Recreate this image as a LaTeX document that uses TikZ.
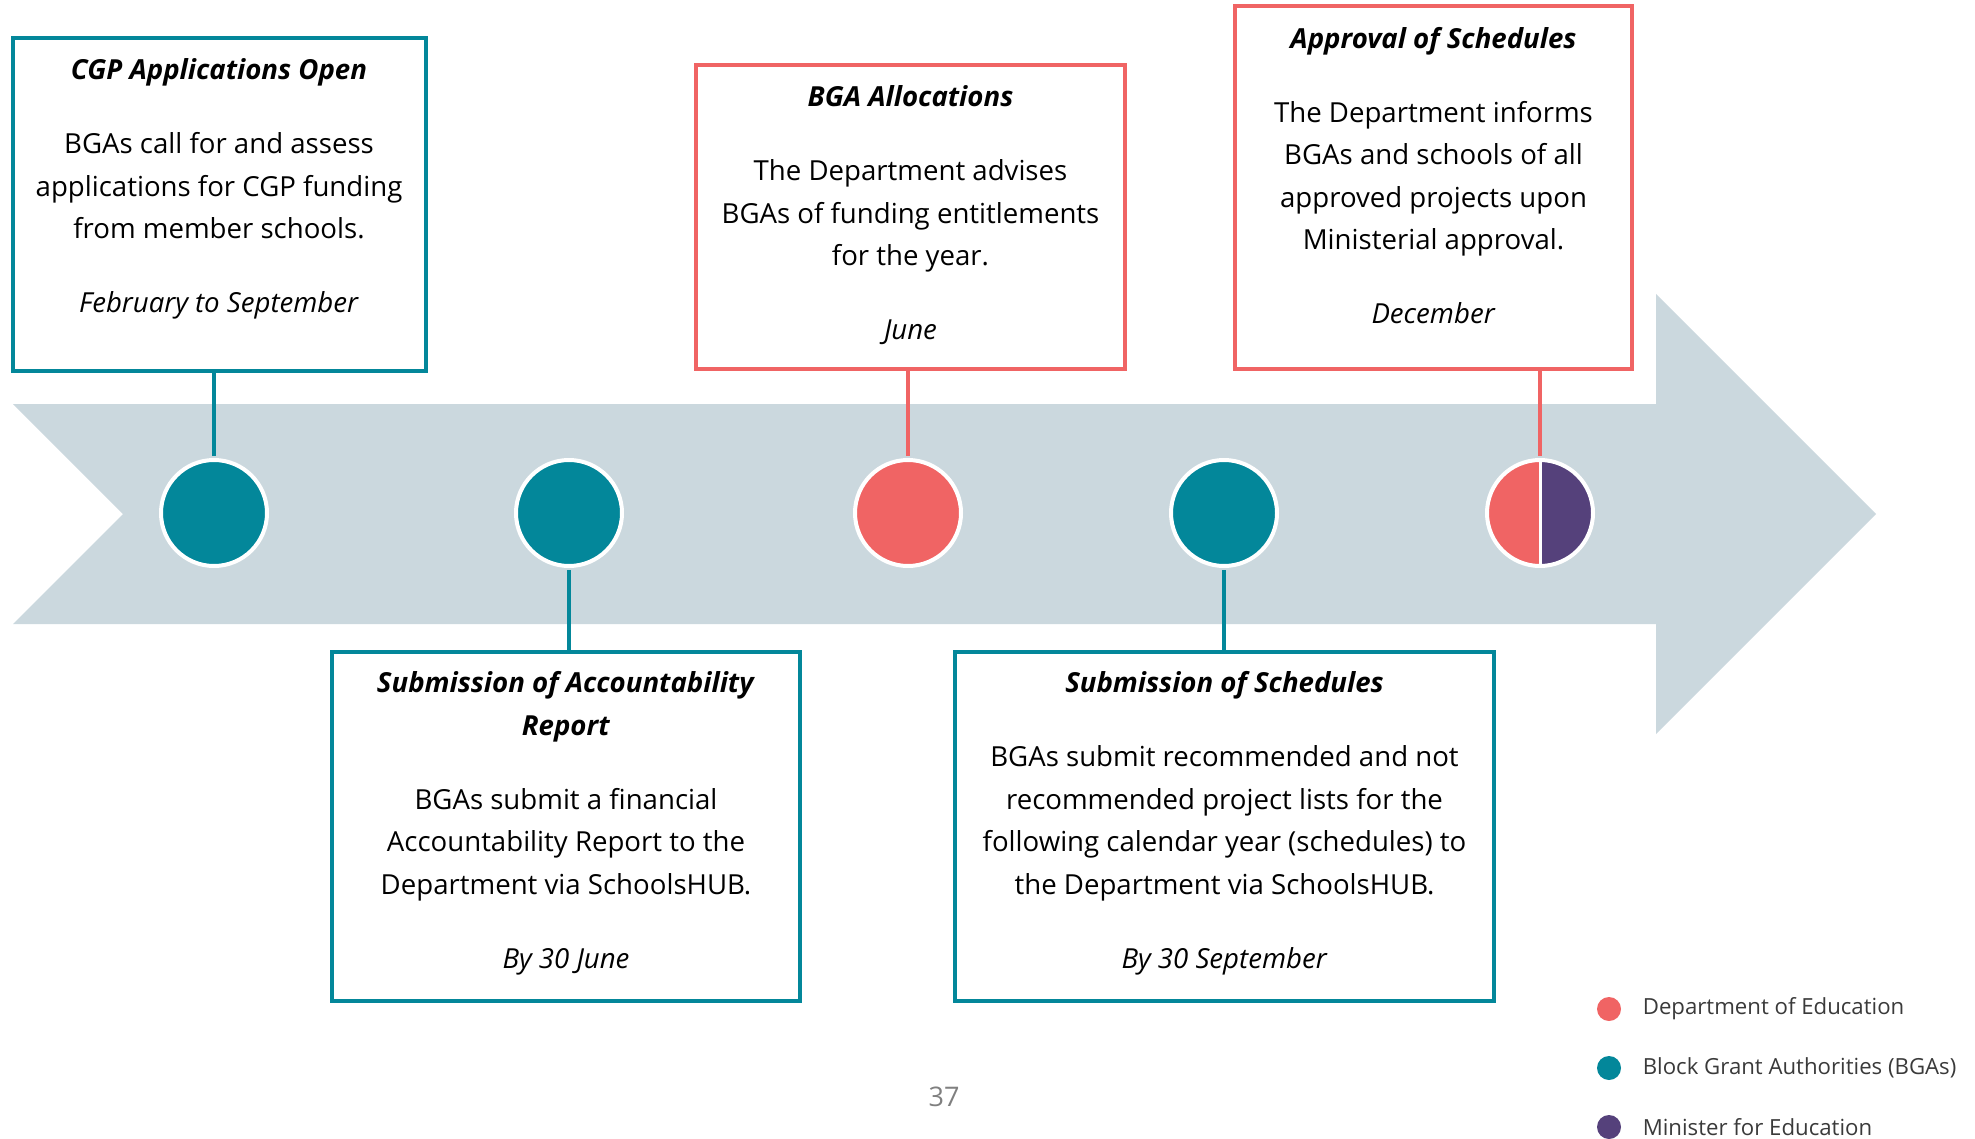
\documentclass[tikz,border=0pt]{standalone}
\usepackage{fontspec}
\setmainfont{Open Sans}
\usepackage{tikz}
\usetikzlibrary{positioning,calc}

\definecolor{bgateal}{HTML}{03879A}
\definecolor{deptred}{HTML}{F06464}
\definecolor{ministerpurple}{HTML}{55417B}
\definecolor{bandgray}{HTML}{CBD8DE}
\definecolor{legendgray}{HTML}{3A3A3A}
\definecolor{pagegray}{HTML}{808080}

\newcommand{\stagetitle}[1]{\textbf{\textit{#1}}}

\begin{document}
\begin{tikzpicture}[
    x=0.5pt, y=-0.5pt,
    stagebox/.style={draw, rectangle, line width=2pt, fill=white, inner sep=0pt},
    stagetext/.style={anchor=north, align=center, inner sep=0pt, font=\fontsize{13.8}{21.25}\selectfont, yshift=-11.25pt},
    dot/.style={circle, draw=white, line width=2pt, minimum size=53pt, inner sep=0pt},
    link/.style={line width=2pt, shorten <=1pt},
    legdot/.style={circle, minimum size=12pt, inner sep=0pt},
    legtext/.style={font=\fontsize{11.1}{13}\selectfont, text=legendgray, inner sep=0pt}
]
    \useasboundingbox (0,0) rectangle (1975,1139);

    % Arrow band
    \fill[bandgray] (13,404) -- (1656,404) -- (1656,294) -- (1876,514) -- (1656,734)
        -- (1656,624) -- (13,624) -- (123,514) -- cycle;

    % Stage boxes above
    \node[stagebox, draw=bgateal, minimum width=206.5pt, minimum height=166.5pt] (apps) at (219,204.5) {};
    \node[stagetext] (appstext) at (apps.north) {\stagetitle{CGP Applications Open}\\[15.75pt]
        BGAs call for and assess\\ applications for CGP funding\\ from member schools.\\[15.75pt]
        \textit{February to September}};

    \node[stagebox, draw=deptred, minimum width=214.5pt, minimum height=152pt] (alloc) at (910.5,217) {};
    \node[stagetext] (alloctext) at (alloc.north) {\stagetitle{BGA Allocations}\\[15.75pt]
        The Department advises\\ BGAs of funding entitlements\\ for the year.\\[15.75pt]
        \textit{June}};

    \node[stagebox, draw=deptred, minimum width=198.5pt, minimum height=181.5pt] (approval) at (1433.5,187.5) {};
    \node[stagetext] (approvaltext) at (approval.north) {\stagetitle{Approval of Schedules}\\[15.75pt]
        The Department informs\\ BGAs and schools of all\\ approved projects upon\\ Ministerial approval.\\[15.75pt]
        \textit{December}};

    % Stage boxes below
    \node[stagebox, draw=bgateal, minimum width=234pt, minimum height=174.5pt] (report) at (566,826.5) {};
    \node[stagetext, yshift=0.75pt] (reporttext) at (report.north) {\stagetitle{Submission of Accountability}\\ \stagetitle{Report}\\[15.75pt]
        BGAs submit a financial\\ Accountability Report to the\\ Department via SchoolsHUB.\\[15.75pt]
        \textit{By 30 June}};

    \node[stagebox, draw=bgateal, minimum width=269.5pt, minimum height=174.5pt] (sched) at (1224.5,826.5) {};
    \node[stagetext, yshift=0.75pt] (schedtext) at (sched.north) {\stagetitle{Submission of Schedules}\\[15.75pt]
        BGAs submit recommended and not\\ recommended project lists for the\\ following calendar year (schedules) to\\ the Department via SchoolsHUB.\\[15.75pt]
        \textit{By 30 September}};

    % Milestones
    \foreach \name/\xpos/\col in {c1/214/bgateal, c2/569/bgateal, c3/908/deptred, c4/1224/bgateal}
        \node[dot, fill=\col] (\name) at (\xpos,513) {};

    \coordinate (c5) at (1540,513);
    \fill[deptred] (c5) ++(0pt,26.5pt) arc[start angle=90, end angle=270, radius=26.5pt] -- cycle;
    \fill[ministerpurple] (c5) ++(0pt,26.5pt) arc[start angle=90, end angle=-90, radius=26.5pt] -- cycle;
    \node[dot] (c5ring) at (c5) {};
    \draw[white, line width=1.5pt] (c5ring.north) -- (c5ring.south);

    % Links
    \draw[link, bgateal] (c1.north) -- (c1.north |- apps.south);
    \draw[link, bgateal] (c2.south) -- (c2.south |- report.north);
    \draw[link, deptred] (c3.north) -- (c3.north |- alloc.south);
    \draw[link, bgateal] (c4.south) -- (c4.south |- sched.north);
    \draw[link, deptred] (c5ring.north) -- (c5ring.north |- approval.south);

    % Legend
    \foreach \i/\col/\txt in {0/deptred/Department of Education, 1/bgateal/Block Grant Authorities (BGAs), 2/ministerpurple/Minister for Education} {
        \node[legdot, fill=\col] (leg\i) at (1609,1009+59*\i) {};
        \node[legtext, right=10.5pt of leg\i] (legtext\i) {\txt};
    }

    \node[font=\fontsize{13.5}{16}\selectfont, text=pagegray] (pagenum) at (944,1097) {37};
\end{tikzpicture}
\end{document}
